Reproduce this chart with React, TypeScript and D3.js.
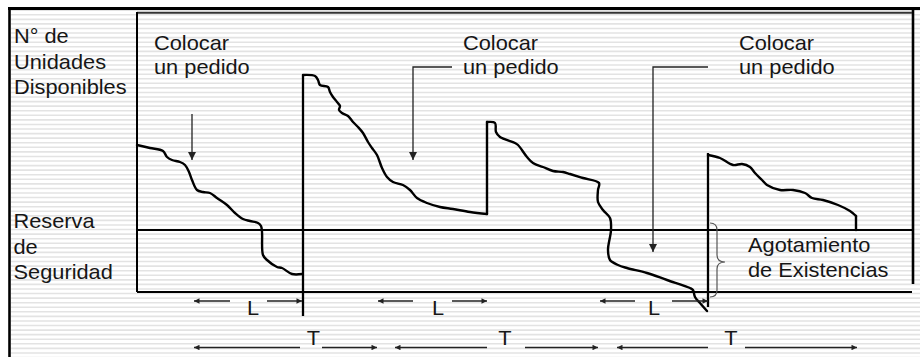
import React from "react";
import * as d3 from "d3";

// ---- data: time (t) vs units on hand (q) ----
type P = [number, number];

const cycle1: P[] = [
  [0, 147], [13, 144], [26, 141], [30, 135], [35, 132], [43, 130], [48, 127], [52, 120],
  [55, 112], [60, 102], [66, 100], [73, 99], [80, 94], [90, 87], [98, 79], [106, 73],
  [113, 71], [121, 69], [124, 66], [125, 60], [126, 37], [130, 32], [140, 25], [145, 24],
  [155, 18], [165, 18],
];

const cycle2: P[] = [
  [166, 217], [178, 216], [181, 212], [183, 207], [191, 205], [193, 200], [196, 195],
  [200, 190], [203, 186], [202, 182], [205, 179], [211, 176], [216, 170], [221, 165],
  [226, 159], [231, 150], [235, 144], [240, 137], [245, 124], [250, 115], [256, 110],
  [266, 107], [273, 102], [280, 94], [290, 89], [303, 85], [316, 83], [333, 80], [350, 78],
];

const jump2: P[] = [[350, 78], [350, 170]];

const cycle3: P[] = [
  [350, 170], [358, 169], [359, 160], [363, 155], [378, 149], [381, 147], [390, 135],
  [396, 129], [406, 125], [416, 121], [426, 120], [433, 118], [446, 114], [462, 109],
  [461, 102], [461, 90], [466, 82], [473, 74], [474, 62], [471, 42], [473, 32], [481, 27],
  [490, 24], [510, 19], [530, 12], [553, 4], [556, 2], [558, -5], [563, -11], [570, -19],
];

const cycle4: P[] = [
  [571, 137], [583, 134], [596, 127], [605, 128], [613, 125], [618, 119], [625, 112],
  [630, 107], [643, 102], [656, 102], [668, 99], [675, 94], [686, 92], [701, 87],
  [713, 81], [719, 76],
];

const drop4: P[] = [[719, 76], [719, 62]];

// replenishment (order receipt) vertical lines: [t, qBottom, qTop]
const receipts: [number, number, number][] = [
  [166, -24, 217],
  [571, -15, 139],
];

const safetyStock = 62;

// "Colocar un pedido" arrows: [tStartHoriz, tArrow, qTop, qTip]
const orderArrows: [number, number, number, number][] = [
  [55, 55, 178, 132],
  [315, 276, 225, 132],
  [571, 516, 225, 40],
];
const orderLabelT = [17, 326, 602];
const orderLabel = ["Colocar", "un pedido"];

// lead time L and cycle T spans: [from, gapStart, gapEnd, to, labelT]
const leadSpans: [number, number, number, number, number][] = [
  [57, 93, 130, 165, 116],
  [241, 276, 315, 350, 301],
  [463, 498, 535, 571, 517],
];
const cycleSpans: [number, number, number, number, number][] = [
  [57, 163, 185, 240, 176.5],
  [258, 350, 388, 461, 368],
  [480, 571, 608, 720, 594],
];
const leadLabel = "L";
const cycleLabel = "T";

const yAxisLabel = ["N° de", "Unidades", "Disponibles"];
const safetyLabel = ["Reserva", "de", "Seguridad"];
const stockoutLabel = ["Agotamiento", "de Existencias"];

const W = 920;
const H = 357;

const FONT = "'Liberation Sans', Arial, sans-serif";

function Label({ x, y, text, anchor = "start" }: { x: number; y: number; text: string; anchor?: string }) {
  return (
    <text
      transform={`translate(${x},${y}) scale(1.09,1)`}
      fontFamily={FONT}
      fontSize={20}
      fill="#161616"
      textAnchor={anchor as any}
    >
      {text}
    </text>
  );
}

export default function App() {
  const x = d3.scaleLinear().domain([0, 775]).range([137, 912]);
  const y = d3.scaleLinear().domain([0, 280]).range([292, 12]);
  const smooth = d3
    .line<P>()
    .x((d) => x(d[0]))
    .y((d) => y(d[1]))
    .curve(d3.curveCatmullRom.alpha(0.5));
  const straight = d3
    .line<P>()
    .x((d) => x(d[0]))
    .y((d) => y(d[1]));

  const stripes = d3.range(10.2, H + 2, 4.57);

  const x0 = x.range()[0];
  const x1 = x.range()[1];
  const yTop = y.range()[1];
  const yBase = y.range()[0];

  return (
    <svg
      width={W}
      height={H}
      style={{ position: "absolute", left: 0, top: 0, background: "#fff" }}
    >
      <defs>
        <marker id="hSmall" viewBox="0 0 10 10" refX="10" refY="5" markerWidth="7" markerHeight="5.5"
          markerUnits="userSpaceOnUse" orient="auto-start-reverse">
          <path d="M0,0 L10,5 L0,10 Z" fill="#222" />
        </marker>
        <marker id="hBig" viewBox="0 0 10 10" refX="10" refY="5" markerWidth="8" markerHeight="8.5"
          markerUnits="userSpaceOnUse" orient="auto">
          <path d="M0,0 L10,5 L0,10 Z" fill="#222" />
        </marker>
      </defs>

      {/* striped background */}
      <g stroke="#e3e3e3" strokeWidth={1.6}>
        {stripes.map((s, i) => (
          <line key={i} x1={11} x2={W} y1={s} y2={s} />
        ))}
      </g>

      {/* outer frame */}
      <line x1={8} x2={W} y1={8.6} y2={8.6} stroke="#000" strokeWidth={3} />
      <line x1={9.5} x2={9.5} y1={7} y2={H} stroke="#000" strokeWidth={2.6} />
      <line x1={913} x2={913} y1={8} y2={284} stroke="#000" strokeWidth={2.6} />

      {/* plot frame */}
      <line x1={x0} x2={x1} y1={yTop + 0.8} y2={yTop + 0.8} stroke="#333" strokeWidth={2} />
      <line x1={x0} x2={x0} y1={yTop} y2={yBase} stroke="#000" strokeWidth={2} />
      <line x1={x0} x2={x1} y1={yBase} y2={yBase} stroke="#000" strokeWidth={2} />
      <line x1={x0} x2={x1} y1={y(safetyStock)} y2={y(safetyStock)} stroke="#000" strokeWidth={2} />

      {/* receipt lines */}
      {receipts.map(([t, qb, qt], i) => (
        <line key={i} x1={x(t)} x2={x(t)} y1={y(qb)} y2={y(qt)} stroke="#000" strokeWidth={2.3} />
      ))}

      {/* inventory curves */}
      <g fill="none" stroke="#000" strokeWidth={2.4} strokeLinejoin="round" strokeLinecap="round">
        {[cycle1, cycle2, cycle3, cycle4].map((c, i) => (
          <path key={i} d={smooth(c) || ""} />
        ))}
        {[jump2, drop4].map((c, i) => (
          <path key={"s" + i} d={straight(c) || ""} />
        ))}
      </g>

      {/* order arrows */}
      <g fill="none" stroke="#222" strokeWidth={1.3}>
        {orderArrows.map(([ts, ta, qt, qtip], i) => (
          <path
            key={i}
            d={
              ts === ta
                ? `M${x(ta)},${y(qt)} L${x(ta)},${y(qtip)}`
                : `M${x(ts)},${y(qt)} L${x(ta)},${y(qt)} L${x(ta)},${y(qtip)}`
            }
            markerEnd="url(#hBig)"
          />
        ))}
      </g>

      {/* L and T spans */}
      <g fill="none" stroke="#222" strokeWidth={1.3}>
        {leadSpans.map(([a, g0, g1, b], i) => (
          <g key={"l" + i}>
            <line x1={x(g0)} x2={x(a)} y1={y(-9)} y2={y(-9)} markerEnd="url(#hSmall)" />
            <line x1={x(g1)} x2={x(b)} y1={y(-9)} y2={y(-9)} markerEnd="url(#hSmall)" />
          </g>
        ))}
        {cycleSpans.map(([a, g0, g1, b], i) => (
          <g key={"t" + i}>
            <line x1={x(g0)} x2={x(a)} y1={y(-55.5)} y2={y(-55.5)} markerEnd="url(#hSmall)" />
            <line x1={x(g1)} x2={x(b)} y1={y(-55.5)} y2={y(-55.5)} markerEnd="url(#hSmall)" />
          </g>
        ))}
      </g>
      {leadSpans.map((s, i) => (
        <Label key={"ll" + i} x={x(s[4])} y={y(-23)} text={leadLabel} anchor="middle" />
      ))}
      {cycleSpans.map((s, i) => (
        <Label key={"tl" + i} x={x(s[4])} y={y(-53)} text={cycleLabel} anchor="middle" />
      ))}

      {/* stockout brace */}
      <path
        d={`M${x(573)},${y(69)} Q${x(580)},${y(69)} ${x(580)},${y(62)} L${x(580)},${y(37)} Q${x(580)},${y(30)} ${x(588)},${y(30)} Q${x(580)},${y(30)} ${x(580)},${y(23)} L${x(580)},${y(2)} Q${x(580)},${y(-5)} ${x(573)},${y(-5)}`}
        fill="none"
        stroke="#555"
        strokeWidth={1.2}
      />

      {/* texts */}
      {yAxisLabel.map((s, i) => (
        <Label key={"ya" + i} x={14} y={43.3 + i * 25.5} text={s} />
      ))}
      {safetyLabel.map((s, i) => (
        <Label key={"ss" + i} x={13.5} y={228.3 + i * 25.5} text={s} />
      ))}
      {orderLabelT.map((t, j) =>
        orderLabel.map((s, i) => (
          <Label key={"ol" + j + i} x={x(t)} y={50 + i * 24} text={s} />
        ))
      )}
      {stockoutLabel.map((s, i) => (
        <Label key={"so" + i} x={x(611)} y={252 + i * 25} text={s} />
      ))}
    </svg>
  );
}
